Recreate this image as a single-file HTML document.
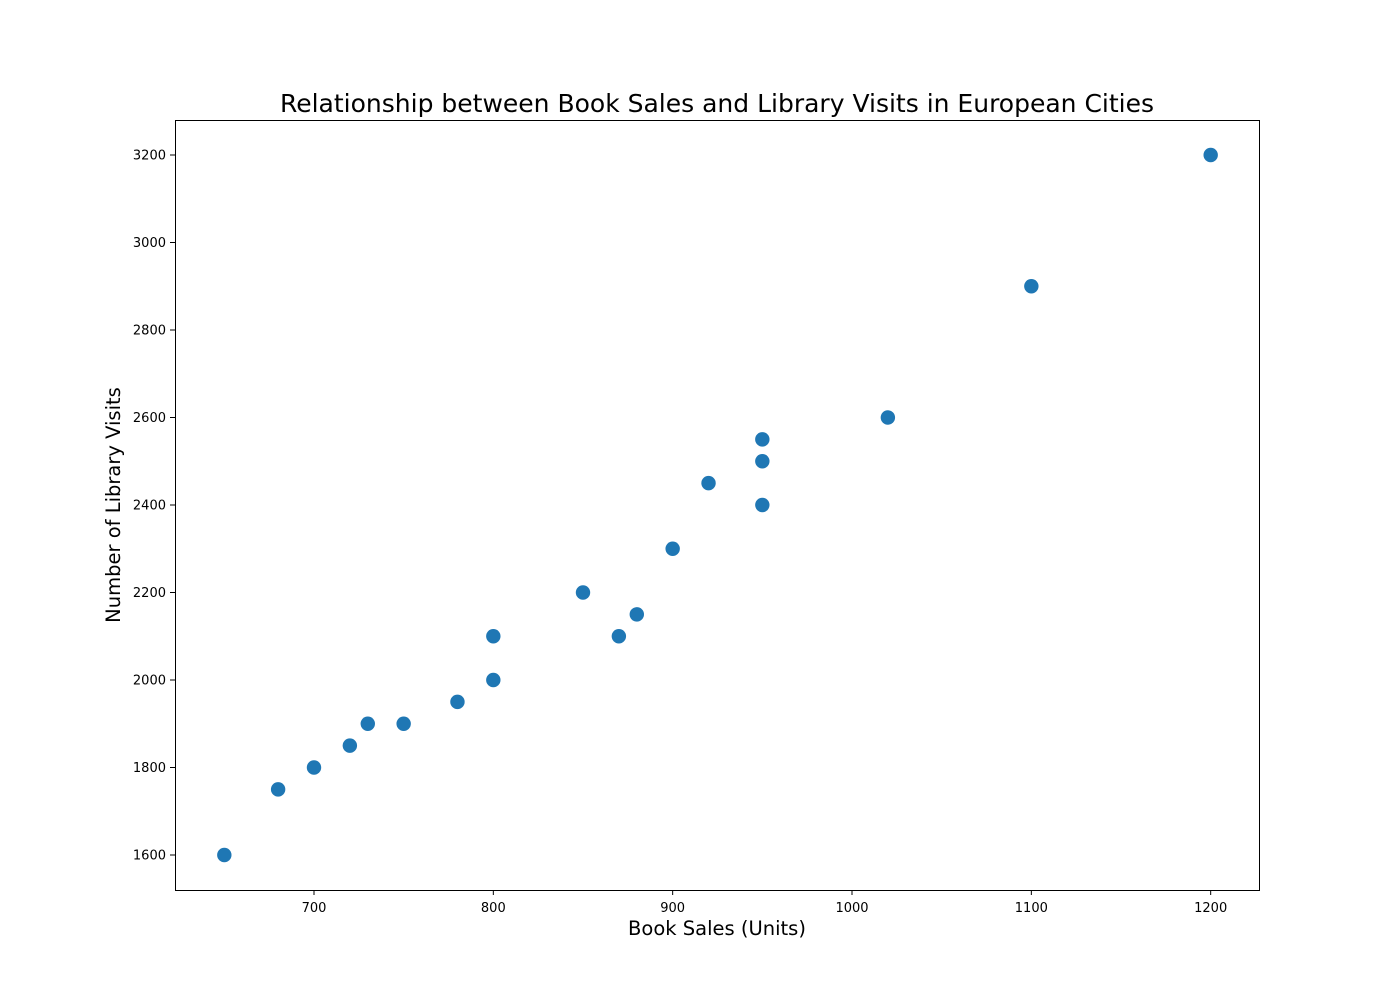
<!DOCTYPE html>
<html>
<head>
<meta charset="utf-8">
<style>
  html, body { margin: 0; padding: 0; background: #fff; }
  svg { display: block; font-family: "DejaVu Sans", "Liberation Sans", sans-serif; }
</style>
</head>
<body>
<svg id="chart" width="1400" height="1000" viewBox="0 0 1400 1000">
  <rect width="1400" height="1000" fill="#fff"/>
  <text x="717" y="112" text-anchor="middle" font-size="25" fill="#000">Relationship between Book Sales and Library Visits in European Cities</text>
  <g id="xticks"></g>
  <g id="yticks"></g>
  <g id="points"></g>
  <rect x="175.5" y="120.5" width="1084" height="770" fill="none" stroke="#000" stroke-width="1"/>
  <text x="717" y="935" text-anchor="middle" font-size="19.5" fill="#000">Book Sales (Units)</text>
  <text transform="translate(120,505) rotate(-90)" text-anchor="middle" font-size="19.5" fill="#000">Number of Library Visits</text>
</svg>
<script>
const bookSales = [650, 680, 700, 720, 730, 750, 780, 800, 800, 850, 870, 880, 900, 920, 950, 950, 950, 1020, 1100, 1200];
const libraryVisits = [1600, 1750, 1800, 1850, 1900, 1900, 1950, 2000, 2100, 2200, 2100, 2150, 2300, 2450, 2400, 2500, 2550, 2600, 2900, 3200];
const xTickValues = [700, 800, 900, 1000, 1100, 1200];
const yTickValues = [1600, 1800, 2000, 2200, 2400, 2600, 2800, 3000, 3200];

const NS = "http://www.w3.org/2000/svg";
const L = 175, R = 1260, T = 120, B = 890;
const xmin = Math.min(...bookSales), xmax = Math.max(...bookSales);
const ymin = Math.min(...libraryVisits), ymax = Math.max(...libraryVisits);
const xpad = (xmax - xmin) * 0.05, ypad = (ymax - ymin) * 0.05;
const x0 = xmin - xpad, x1 = xmax + xpad, y0 = ymin - ypad, y1 = ymax + ypad;
function sx(v) { return L + (v - x0) / (x1 - x0) * (R - L); }
function sy(v) { return B - (v - y0) / (y1 - y0) * (B - T); }
function mk(tag, attrs) { const e = document.createElementNS(NS, tag); for (const k in attrs) e.setAttribute(k, attrs[k]); return e; }

const xg = document.getElementById("xticks");
xTickValues.forEach(v => {
  const x = sx(v);
  const t = mk("line", {x1: x, x2: x, y1: B, y2: B + 5, stroke: "#000"});
  
  
  xg.appendChild(t);
  const lb = mk("text", {x: x, y: B + 22, "text-anchor": "middle", "font-size": "13"});
  
  
  lb.textContent = v;
  xg.appendChild(lb);
});
const yg = document.getElementById("yticks");
yTickValues.forEach(v => {
  const y = sy(v);
  const t = mk("line", {x1: L - 5, x2: L, y1: y, y2: y, stroke: "#000"});
  
  
  yg.appendChild(t);
  const lb = mk("text", {x: L - 9, y: y + 4.5, "text-anchor": "end", "font-size": "13"});
  
  
  lb.textContent = v;
  yg.appendChild(lb);
});
const pg = document.getElementById("points");
bookSales.forEach((v, i) => {
  const c = mk("circle", {cx: sx(v), cy: sy(libraryVisits[i]), r: 7.2, fill: "#1f77b4"});
  
  
  pg.appendChild(c);
});
</script>
</body>
</html>
